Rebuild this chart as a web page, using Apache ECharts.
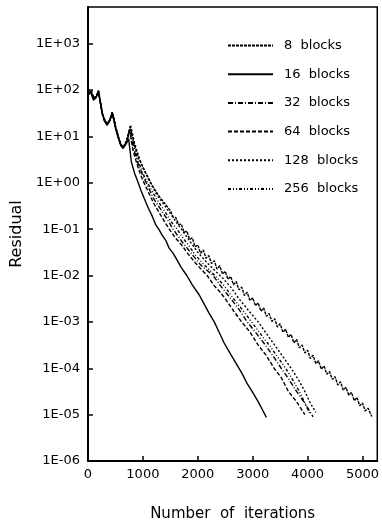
<!DOCTYPE html>
<html>
<head>
<meta charset="utf-8">
<script src="https://cdn.jsdelivr.net/npm/echarts@6/dist/echarts.min.js"></script>
<style>
  html, body { margin: 0; padding: 0; background: #fff; }
  #chart { width: 382px; height: 527px; }
</style>
</head>
<body>
<div id="chart"></div>
<script>
// legend names
var names = ['8  blocks', '16  blocks', '32  blocks', '64  blocks', '128  blocks', '256  blocks'];
// x tick values (iterations)
var xTicks = [0, 1000, 2000, 3000, 4000, 5000];
// y ticks are decades 1E-06 .. 1E+03
var yTickLabels = ['1E-06', '1E-05', '1E-04', '1E-03', '1E-02', '1E-01', '1E+00', '1E+01', '1E+02', '1E+03'];

var iter8 = [0, 60, 110, 150, 190, 225, 260, 300, 350, 400, 440, 470, 500, 550, 600, 640, 700, 770, 850, 930, 1050, 1170, 1300, 1400,
  1500, 1550, 1600, 1650, 1700, 1750, 1800, 1850, 1900, 1950, 2000, 2050, 2100, 2150, 2200, 2250, 2300, 2350, 2400, 2450,
  2500, 2550, 2600, 2650, 2700, 2750, 2800, 2850, 2900, 2950, 3000, 3050, 3100, 3150, 3200, 3250, 3300, 3350, 3400, 3450,
  3500, 3550, 3600, 3650, 3700, 3750, 3800, 3850, 3900, 3950, 4000, 4050, 4100, 4150, 4200, 4250, 4300, 4350, 4400, 4450,
  4500, 4550, 4600, 4650, 4700, 4750, 4800, 4850, 4900, 4950, 5000, 5050, 5100, 5170];
var logRes8 = [1.92, 1.98, 1.82, 1.86, 1.98, 1.74, 1.5, 1.36, 1.27, 1.36, 1.5, 1.38, 1.22, 1.0, 0.82, 0.76, 0.88, 1.2, 0.8, 0.51, 0.22, -0.06, -0.3, -0.45,
  -0.60, -0.74, -0.75, -0.90, -0.89, -1.07, -1.04, -1.22, -1.19, -1.38, -1.34, -1.52, -1.45, -1.63, -1.57, -1.74, -1.68, -1.86, -1.79, -1.97,
  -1.91, -2.08, -2.02, -2.20, -2.13, -2.31, -2.25, -2.43, -2.36, -2.54, -2.48, -2.65, -2.59, -2.77, -2.70, -2.88, -2.82, -2.99, -2.93, -3.11,
  -3.04, -3.22, -3.16, -3.33, -3.27, -3.45, -3.38, -3.56, -3.50, -3.67, -3.61, -3.79, -3.72, -3.90, -3.84, -4.02, -3.95, -4.13, -4.07, -4.24,
  -4.18, -4.36, -4.29, -4.47, -4.41, -4.58, -4.52, -4.70, -4.63, -4.81, -4.75, -4.92, -4.86, -5.04];

var iter16 = [0, 50, 100, 150, 190, 225, 260, 300, 350, 400, 440, 470, 500, 550, 600, 640, 700, 740, 790, 850, 900, 960, 1025, 1100, 1170,
  1240, 1300, 1350, 1420, 1478, 1540, 1600, 1700, 1800, 1900, 2027, 2100, 2200, 2300, 2400, 2478, 2600, 2700, 2800, 2900, 3000, 3100, 3180, 3250];
var logRes16 = [1.88, 1.95, 1.78, 1.84, 1.96, 1.72, 1.48, 1.33, 1.24, 1.34, 1.48, 1.35, 1.18, 0.97, 0.8, 0.74, 0.85, 0.95, 0.45, 0.2, 0.05, -0.15, -0.34, -0.55, -0.72,
  -0.92, -1.02, -1.13, -1.25, -1.41, -1.5, -1.62, -1.83, -2.0, -2.2, -2.42, -2.58, -2.8, -3.0, -3.25, -3.45, -3.7, -3.9, -4.1, -4.33, -4.52, -4.72, -4.9, -5.06];

var iter32 = [0, 50, 100, 150, 190, 225, 260, 300, 350, 400, 440, 470, 500, 550, 600, 640, 700, 765, 830, 900, 1000, 1100, 1200, 1350, 1450,
  1550, 1700, 1800, 1900, 2050, 2150, 2280, 2400, 2500, 2600, 2750, 2900, 3050, 3230, 3380, 3520, 3650, 3800, 3950, 4100];
var logRes32 = [1.91, 1.97, 1.81, 1.87, 1.99, 1.75, 1.51, 1.34, 1.25, 1.36, 1.51, 1.38, 1.21, 0.99, 0.8, 0.75, 0.88, 1.15, 0.75, 0.45, 0.15, -0.1, -0.35, -0.62, -0.8,
  -1.0, -1.25, -1.4, -1.55, -1.77, -1.87, -2.0, -2.2, -2.35, -2.5, -2.73, -3.0, -3.22, -3.5, -3.75, -4.0, -4.22, -4.5, -4.75, -5.05];

var iter64 = [0, 55, 105, 150, 190, 225, 260, 300, 350, 400, 440, 470, 500, 550, 600, 640, 700, 760, 820, 880, 950, 1000, 1100, 1200, 1300,
  1400, 1480, 1600, 1700, 1800, 1950, 2050, 2170, 2300, 2400, 2500, 2650, 2800, 2950, 3100, 3250, 3390, 3520, 3650, 3800, 3950];
var logRes64 = [1.9, 1.96, 1.8, 1.85, 1.97, 1.73, 1.49, 1.35, 1.26, 1.35, 1.5, 1.37, 1.2, 0.98, 0.81, 0.75, 0.87, 1.1, 0.7, 0.45, 0.2, 0.05, -0.2, -0.45, -0.65,
  -0.85, -1.0, -1.2, -1.33, -1.5, -1.72, -1.85, -2.0, -2.22, -2.35, -2.5, -2.76, -3.0, -3.22, -3.5, -3.73, -4.0, -4.2, -4.5, -4.72, -5.0];

var iter128 = [0, 55, 105, 150, 190, 225, 260, 300, 350, 400, 440, 470, 500, 550, 600, 640, 700, 775, 850, 930, 1000, 1100, 1250, 1400, 1550,
  1700, 1850, 2000, 2150, 2300, 2450, 2600, 2750, 2900, 3100, 3250, 3400, 3550, 3700, 3850, 3950, 4050, 4150];
var logRes128 = [1.91, 1.97, 1.82, 1.87, 1.97, 1.76, 1.52, 1.37, 1.28, 1.36, 1.53, 1.4, 1.23, 1.01, 0.83, 0.77, 0.9, 1.25, 0.85, 0.55, 0.32, 0.08, -0.25, -0.5, -0.75,
  -1.0, -1.25, -1.5, -1.7, -1.88, -2.05, -2.25, -2.5, -2.72, -3.0, -3.25, -3.5, -3.75, -4.0, -4.28, -4.5, -4.75, -4.95];

var iter256 = [0, 60, 110, 150, 190, 225, 260, 300, 350, 400, 440, 470, 500, 550, 600, 640, 700, 770, 840, 920, 1000, 1120, 1250, 1400, 1520,
  1620, 1750, 1850, 1950, 2100, 2230, 2350, 2480, 2650, 2800, 2980, 3150, 3300, 3450, 3600, 3730, 3850, 3950, 4050];
var logRes256 = [1.93, 1.99, 1.83, 1.86, 1.98, 1.74, 1.5, 1.36, 1.27, 1.37, 1.52, 1.39, 1.22, 1.0, 0.82, 0.76, 0.89, 1.2, 0.8, 0.45, 0.2, -0.08, -0.35, -0.62, -0.85,
  -1.0, -1.22, -1.38, -1.55, -1.75, -1.9, -2.05, -2.22, -2.5, -2.72, -3.0, -3.27, -3.5, -3.75, -4.0, -4.25, -4.5, -4.75, -5.0];

var iters = [iter8, iter16, iter32, iter64, iter128, iter256];
var logs = [logRes8, logRes16, logRes32, logRes64, logRes128, logRes256];
var dashes = [[3, 1], 'solid', [5, 2, 1, 2], [4, 2], [2, 2], [3, 2, 1, 2, 1, 2]];

var font = 'DejaVu Sans';
var myChart = echarts.init(document.getElementById('chart'));

var series = [];
for (var i = 0; i < names.length; i++) {
  var pts = [];
  for (var j = 0; j < iters[i].length; j++) {
    pts.push([iters[i][j], Math.pow(10, logs[i][j])]);
  }
  series.push({
    name: names[i],
    type: 'line',
    symbol: 'none',
    animation: false,
    lineStyle: { color: '#000', width: 1.4, type: dashes[i] },
    itemStyle: { color: '#000' },
    data: pts
  });
}

var option = {
  backgroundColor: '#fff',
  animation: false,
  grid: {
    left: 88, right: 3, top: 7, bottom: 63,
    show: true, borderColor: '#000', borderWidth: 1.5
  },
  legend: {
    orient: 'vertical',
    left: 227,
    top: 39,
    padding: 0,
    itemWidth: 45,
    itemHeight: 14,
    itemGap: 15.7,
    data: names,
    itemStyle: { color: 'rgba(0,0,0,0)', borderWidth: 0, opacity: 0 },
    textStyle: { fontFamily: font, fontSize: 13, color: '#000', padding: [0, 0, 0, 6] }
  },
  xAxis: {
    type: 'value',
    min: 0,
    max: 5270,
    interval: 1000,
    name: 'Number  of  iterations',
    nameLocation: 'middle',
    nameGap: 46,
    nameTextStyle: { fontFamily: font, fontSize: 15, color: '#000' },
    axisLine: { lineStyle: { color: '#000', width: 2 } },
    axisTick: { inside: true, length: 5, lineStyle: { color: '#000', width: 1.5 } },
    axisLabel: {
      fontFamily: font, fontSize: 13, color: '#000', margin: 7, showMaxLabel: false,
      formatter: function (v) { return xTicks.indexOf(v) >= 0 ? String(v) : ''; }
    },
    splitLine: { show: false }
  },
  yAxis: {
    type: 'log',
    logBase: 10,
    min: 1e-6,
    max: 6166,
    interval: 1,
    name: 'Residual',
    nameLocation: 'middle',
    nameGap: 62,
    nameTextStyle: { fontFamily: font, fontSize: 16, color: '#000' },
    axisLine: { lineStyle: { color: '#000', width: 2 } },
    axisTick: { inside: true, length: 5, lineStyle: { color: '#000', width: 1.5 } },
    axisLabel: {
      fontFamily: font, fontSize: 13, color: '#000', margin: 8, showMaxLabel: false,
      formatter: function (v) {
        var n = Math.round(Math.log(v) / Math.LN10);
        return yTickLabels[n + 6] || '';
      }
    },
    splitLine: { show: false }
  },
  series: series
};
myChart.setOption(option);
</script>
</body>
</html>
